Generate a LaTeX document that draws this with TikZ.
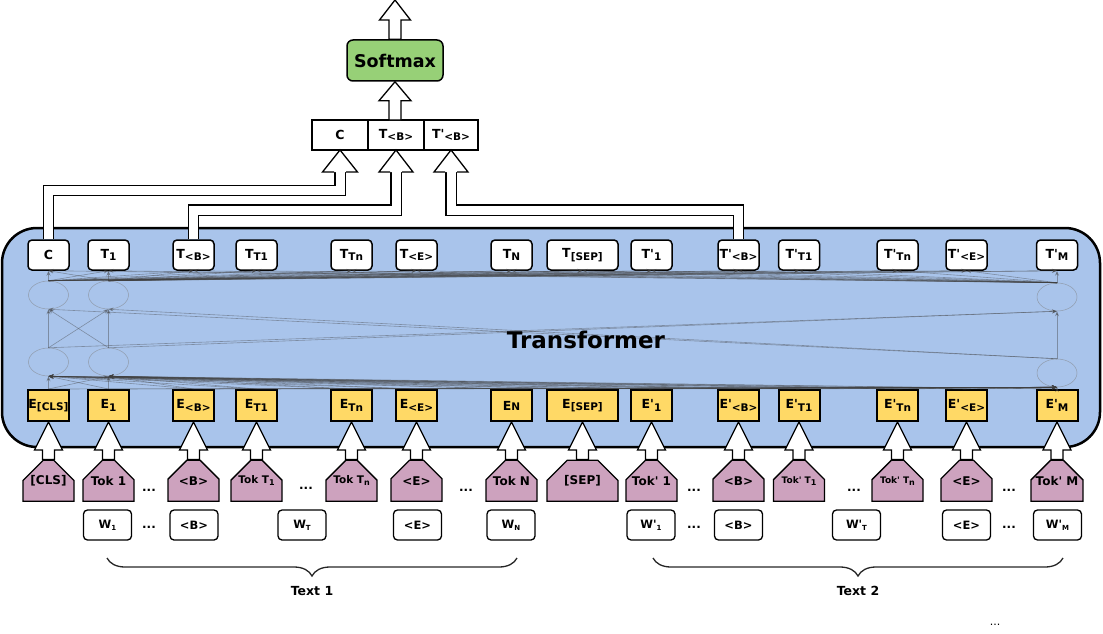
\documentclass[tikz,border=0pt]{standalone}
\usepackage{fontspec}
\setmainfont{DejaVu Sans}
\usetikzlibrary{calc, positioning, arrows.meta, shapes.geometric, shapes.misc, decorations.pathreplacing}

\definecolor{transblue}{HTML}{A9C4EB}
\definecolor{embyellow}{HTML}{FFD966}
\definecolor{tokpurple}{HTML}{CDA2BE}
\definecolor{smgreen}{HTML}{97D077}

\newcommand{\sbs}[1]{\raisebox{-2.5pt}{\fontsize{10.5}{10.5}\selectfont #1}}
\newcommand{\tsb}[1]{\raisebox{-2pt}{\fontsize{8}{8}\selectfont #1}}
\newcommand{\wsb}[1]{\raisebox{-2pt}{\fontsize{7}{7}\selectfont #1}}
\newcommand{\apos}{\textquotesingle}

% hollow block arrow pointing up: foot #1, tip #2, head length #3, head half width #4
\newcommand{\fatup}[4]{%
  \draw[fatarrow] let \p1=(#1), \p2=(#2) in
    (\x2-6pt,\y1) -- (\x2-6pt,\y2-#3) -- (\x2-#4,\y2-#3) -- (\x2,\y2)
    -- (\x2+#4,\y2-#3) -- (\x2+6pt,\y2-#3) -- (\x2+6pt,\y1) -- cycle;
}
% head only, for the bent arrows
\newcommand{\fathead}[3]{%
  \path[fatarrow] let \p2=(#1) in
    (\x2-6pt,\y2-#2) -- (\x2-#3,\y2-#2) -- (\x2,\y2) -- (\x2+#3,\y2-#2) -- (\x2+6pt,\y2-#2);
}

\begin{document}
\begin{tikzpicture}[x=1pt, y=-1pt,
  outbox/.style={draw=black, line width=1.5pt, rounded corners=4pt, fill=white,
    minimum height=30pt, inner sep=0pt, font=\bfseries\fontsize{12.5}{12.5}\selectfont},
  embbox/.style={draw=black, line width=2pt, fill=embyellow,
    minimum height=31pt, inner sep=0pt, font=\bfseries\fontsize{12.5}{12.5}\selectfont},
  tokbox/.style={chamfered rectangle, chamfered rectangle corners={north west, north east},
    chamfered rectangle xsep=13pt, chamfered rectangle ysep=15pt,
    draw=black, line width=1.3pt, fill=tokpurple, minimum height=41pt, inner sep=0pt,
    font=\bfseries\fontsize{12}{12}\selectfont},
  wordbox/.style={draw=black, line width=1.3pt, rounded corners=4pt, fill=white,
    minimum width=48pt, minimum height=30pt, inner sep=0pt,
    font=\bfseries\fontsize{11.5}{12}\selectfont},
  cell/.style={draw=black, line width=1.3pt, fill=white, minimum height=30pt,
    inner sep=0pt, outer sep=0pt, font=\bfseries\fontsize{12.5}{12.5}\selectfont},
  smbox/.style={draw=black, line width=1.5pt, rounded corners=6pt, fill=smgreen,
    minimum width=96pt, minimum height=41pt, font=\bfseries\fontsize{17.5}{17.5}\selectfont},
  transbox/.style={draw=black, line width=2.5pt, rounded corners=35pt, fill=transblue,
    minimum width=1098pt, minimum height=219pt},
  neuron/.style={ellipse, draw=black!50, line width=0.5pt, opacity=0.6,
    minimum width=40pt, minimum height=28pt, inner sep=0pt},
  mesh/.style={draw=black!75, line width=0.6pt, opacity=0.42, -{Stealth[length=5pt, width=4pt]}},
  fatarrow/.style={draw=black, fill=white, line width=1.3pt, line join=miter},
  fatpath/.style={draw=black, double=white, double distance=9pt, line width=1.3pt, line join=miter},
  dots/.style={font=\bfseries\fontsize{12}{12}\selectfont, inner sep=0pt},
  textbrace/.style={decorate, decoration={brace, mirror, amplitude=18pt}, draw=black!85, line width=1.3pt},
  textlabel/.style={font=\bfseries\fontsize{12.5}{12.5}\selectfont}
]
\useasboundingbox (0,0) rectangle (1103,634);

% Transformer block
\node[transbox] (trans) at (551,337.5) {};

% output row and embedding row
\foreach \i/\x/\bw/\tl/\el in {
  1/48.5/41pt/{C}/{E\sbs{[CLS]}},
  2/108.5/41pt/{T\sbs{1}}/{E\sbs{1}},
  3/193.5/41pt/{T\sbs{<B>}}/{E\sbs{<B>}},
  4/256.5/41pt/{T\sbs{T1}}/{E\sbs{T1}},
  5/351.5/41pt/{T\sbs{Tn}}/{E\sbs{Tn}},
  6/416.5/41pt/{T\sbs{<E>}}/{E\sbs{<E>}},
  7/511.5/41pt/{T\sbs{N}}/{E{\fontsize{10.5}{10.5}\selectfont N}},
  8/582.5/71pt/{T\sbs{[SEP]}}/{E\sbs{[SEP]}},
  9/651.5/41pt/{T\apos\sbs{1}}/{E\apos\sbs{1}},
  10/738.5/41pt/{T\apos\sbs{<B>}}/{E\apos\sbs{<B>}},
  11/799/41pt/{T\apos\sbs{T1}}/{E\apos\sbs{T1}},
  12/897.5/41pt/{T\apos\sbs{Tn}}/{E\apos\sbs{Tn}},
  13/966.5/41pt/{T\apos\sbs{<E>}}/{E\apos\sbs{<E>}},
  14/1057/41pt/{T\apos\sbs{M}}/{E\apos\sbs{M}}} {
  \node[outbox, minimum width=\bw] (t\i) at (\x,255) {\tl};
  \node[embbox, minimum width=\bw] (e\i) at (\x,405.5) {\el};
}

% hidden units
\node[neuron] (lo1) at (48.5,362) {};
\node[neuron] (lo2) at (108.5,362) {};
\node[neuron] (lo3) at (1057,373) {};
\node[neuron] (up1) at (48.5,295) {};
\node[neuron] (up2) at (108.5,295) {};
\node[neuron] (up3) at (1057,297) {};

\foreach \i in {1,...,14}
  \foreach \j in {1,2,3}
    \draw[mesh] (e\i.north) -- (lo\j.south);
\foreach \j in {1,2,3}
  \foreach \k in {1,2,3}
    \draw[mesh] (lo\j.north) -- (up\k.south);
\foreach \j in {1,2,3}
  \foreach \i in {1,...,14}
    \draw[mesh] (up\j.north) -- (t\i.south);

\node[font=\bfseries\fontsize{23}{23}\selectfont] (trtext) at (586,340) {Transformer};

% token row
\foreach \i/\bw/\lbl in {
  1/51pt/{[CLS]}, 2/51pt/{Tok 1}, 3/51pt/{<B>},
  4/51pt/{\fontsize{10.5}{10.5}\selectfont Tok T\tsb{1}},
  5/51pt/{\fontsize{10.5}{10.5}\selectfont Tok T\tsb{n}},
  6/51pt/{<E>}, 7/51pt/{Tok N}, 8/71pt/{[SEP]},
  9/51pt/{Tok\apos{} 1}, 10/51pt/{<B>},
  11/51pt/{\fontsize{9}{9}\selectfont Tok\apos{} T\tsb{1}},
  12/51pt/{\fontsize{9}{9}\selectfont Tok\apos{} T\tsb{n}},
  13/51pt/{<E>}, 14/51pt/{Tok\apos{} M}} {
  \node[tokbox, minimum width=\bw, below=37.5pt of e\i] (tok\i) {\lbl};
  \fatup{tok\i.north}{e\i.south}{28pt}{14pt}
}

% word row
\foreach \n/\x/\lbl in {1/107.5/{W\wsb{1}}, 2/194/{<B>}, 3/302/{W\wsb{T}},
  4/417.5/{<E>}, 5/511/{W\wsb{N}}, 6/651/{W\apos\wsb{1}}, 7/738.5/{<B>},
  8/856.5/{W\apos\wsb{T}}, 9/966.5/{<E>}, 10/1057.5/{W\apos\wsb{M}}}
  \node[wordbox] (w\n) at (\x,525) {\lbl};

\foreach \n/\x/\y in {1/149/490, 2/306/488, 3/466/490, 4/694/490, 5/854/490,
  6/1009/490, 7/149/527, 8/694/527, 9/1009/527}
  \node[dots] (dot\n) at (\x,\y) {...};

% classifier head
\node[cell, minimum width=56pt] (cellc) at (340,135) {C};
\node[cell, minimum width=56pt, right=0pt of cellc] (cellb) {T\sbs{<B>}};
\node[cell, minimum width=54pt, right=0pt of cellb] (cellp) {T\apos\sbs{<B>}};
\node[smbox] (sm) at (395,60.5) {Softmax};
\coordinate (out) at (395,0);

\fatup{sm.north}{out}{20pt}{15.5pt}
\fatup{cellb.north}{sm.south}{19pt}{16pt}

\draw[fatpath] (t1.north) |- ($(cellc.south)+(0,40.5)$) -- ($(cellc.south)+(0,22)$);
\draw[fatpath] (t3.north) |- ($(cellb.south)+(0,60)$) -- ($(cellb.south)+(0,22)$);
\draw[fatpath] (t10.north) |- ($(cellp.south)+(0,60)$) -- ($(cellp.south)+(0,22)$);
\fathead{cellc.south}{22pt}{17.5pt}
\fathead{cellb.south}{22pt}{17pt}
\fathead{cellp.south}{22pt}{17pt}

% segments
\coordinate (b1l) at (107,558);
\coordinate (b1r) at (517,558);
\coordinate (b2l) at (653,558);
\coordinate (b2r) at (1063,558);
\draw[textbrace] (b1l) -- (b1r);
\draw[textbrace] (b2l) -- (b2r);
\node[textlabel] (text1) at (312,591) {Text 1};
\node[textlabel] (text2) at (858,591) {Text 2};
\node[font=\fontsize{11}{11}\selectfont] (more) at (995,625) {...};
\end{tikzpicture}
\end{document}
